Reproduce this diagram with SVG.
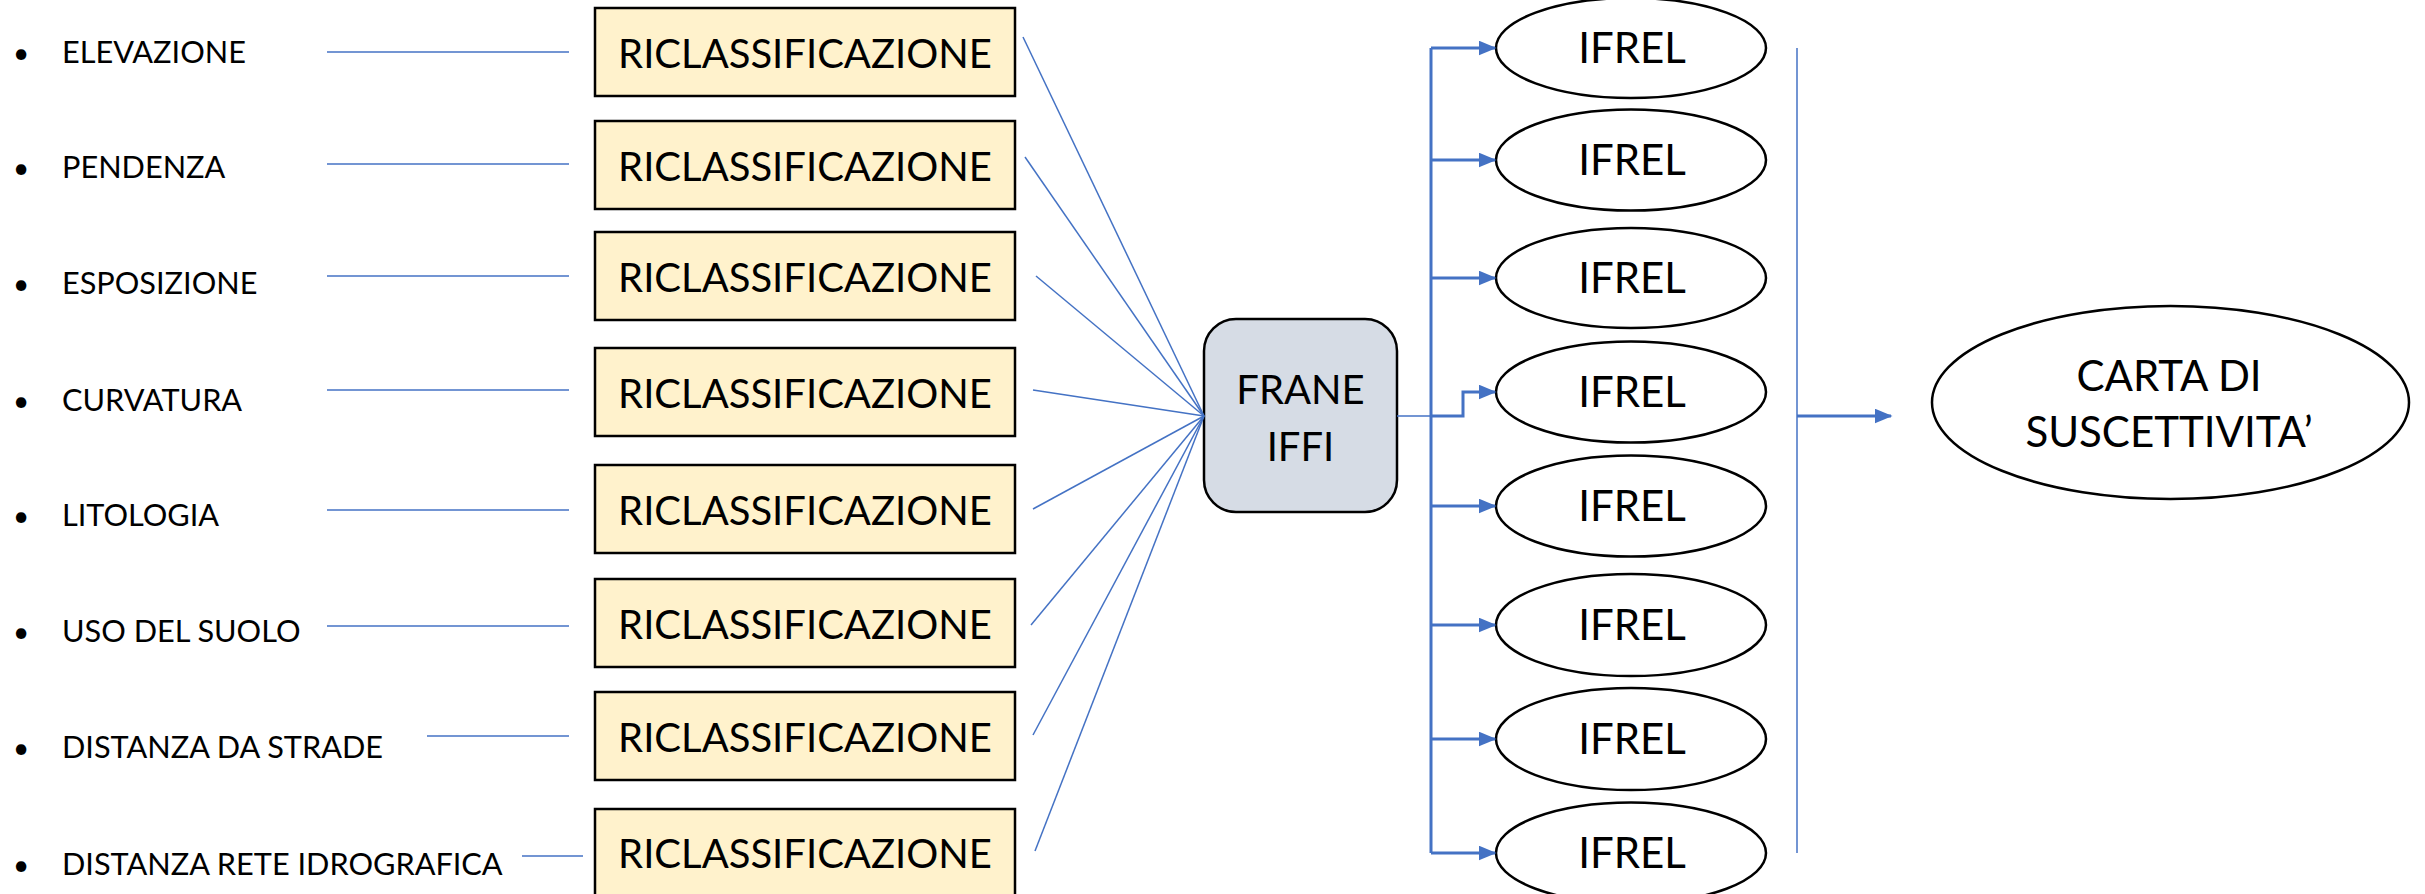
<svg xmlns="http://www.w3.org/2000/svg" width="2425" height="894" viewBox="0 0 2425 894">
<style>
.lbl{font-family:Lato,"Liberation Sans",sans-serif;font-size:30.7px;fill:#000}
.bul{font-family:Lato,"Liberation Sans",sans-serif;font-size:28px;fill:#000}
.box rect{fill:#FFF2CC;stroke:#000;stroke-width:2.5}
.box text{font-family:Lato,"Liberation Sans",sans-serif;font-size:40px;fill:#000;text-anchor:middle}
.ell ellipse{fill:#fff;stroke:#000;stroke-width:2.5}
.ell text{font-family:Lato,"Liberation Sans",sans-serif;font-size:42px;fill:#000;text-anchor:middle}
.thin{stroke:#4472C4;stroke-width:1.5;fill:none}
.thick{stroke:#4472C4;stroke-width:3;fill:none}
</style>
<defs>
<marker id="ah" markerWidth="6" markerHeight="5" refX="5.5" refY="2.5" orient="auto" markerUnits="strokeWidth">
<path d="M0,0 L6,2.5 L0,5 Z" fill="#4472C4"/>
</marker>
</defs>
<g id="labels">
<g id="l1"><text class="bul" x="13" y="63">•</text><text class="lbl" x="62" y="63">ELEVAZIONE</text></g>
<g id="l2"><text class="bul" x="13" y="178">•</text><text class="lbl" x="62" y="178">PENDENZA</text></g>
<g id="l3"><text class="bul" x="13" y="294">•</text><text class="lbl" x="62" y="294">ESPOSIZIONE</text></g>
<g id="l4"><text class="bul" x="13" y="411">•</text><text class="lbl" x="62" y="411">CURVATURA</text></g>
<g id="l5"><text class="bul" x="13" y="526">•</text><text class="lbl" x="62" y="526">LITOLOGIA</text></g>
<g id="l6"><text class="bul" x="13" y="642">•</text><text class="lbl" x="62" y="642">USO DEL SUOLO</text></g>
<g id="l7"><text class="bul" x="13" y="758">•</text><text class="lbl" x="62" y="758">DISTANZA DA STRADE</text></g>
<g id="l8"><text class="bul" x="13" y="875">•</text><text class="lbl" x="62" y="875">DISTANZA RETE IDROGRAFICA</text></g>
</g>
<g id="b1" class="box"><rect x="595" y="8" width="420" height="88"/><text x="805" y="68">RICLASSIFICAZIONE</text></g>
<g id="b2" class="box"><rect x="595" y="121" width="420" height="88"/><text x="805" y="181">RICLASSIFICAZIONE</text></g>
<g id="b3" class="box"><rect x="595" y="232" width="420" height="88"/><text x="805" y="292">RICLASSIFICAZIONE</text></g>
<g id="b4" class="box"><rect x="595" y="348" width="420" height="88"/><text x="805" y="408">RICLASSIFICAZIONE</text></g>
<g id="b5" class="box"><rect x="595" y="465" width="420" height="88"/><text x="805" y="525">RICLASSIFICAZIONE</text></g>
<g id="b6" class="box"><rect x="595" y="579" width="420" height="88"/><text x="805" y="639">RICLASSIFICAZIONE</text></g>
<g id="b7" class="box"><rect x="595" y="692" width="420" height="88"/><text x="805" y="752">RICLASSIFICAZIONE</text></g>
<g id="b8" class="box"><rect x="595" y="809" width="420" height="90"/><text x="805" y="868">RICLASSIFICAZIONE</text></g>
<g id="frane">
<rect x="1204" y="319" width="193" height="193" rx="32" fill="#D6DCE5" stroke="#000" stroke-width="2.5"/>
<text x="1300.5" y="404" font-family="Lato,'Liberation Sans',sans-serif" font-size="40" text-anchor="middle">FRANE</text>
<text x="1300.5" y="461" font-family="Lato,'Liberation Sans',sans-serif" font-size="40" text-anchor="middle">IFFI</text>
</g>
<g id="e1" class="ell"><ellipse cx="1631" cy="48" rx="135" ry="50"/><text x="1632" y="63">IFREL</text></g>
<g id="e2" class="ell"><ellipse cx="1631" cy="160" rx="135" ry="50.5"/><text x="1632" y="175">IFREL</text></g>
<g id="e3" class="ell"><ellipse cx="1631" cy="278" rx="135" ry="50"/><text x="1632" y="293">IFREL</text></g>
<g id="e4" class="ell"><ellipse cx="1631" cy="392" rx="135" ry="50.5"/><text x="1632" y="407">IFREL</text></g>
<g id="e5" class="ell"><ellipse cx="1631" cy="506" rx="135" ry="50.5"/><text x="1632" y="521">IFREL</text></g>
<g id="e6" class="ell"><ellipse cx="1631" cy="625" rx="135" ry="51"/><text x="1632" y="640">IFREL</text></g>
<g id="e7" class="ell"><ellipse cx="1631" cy="739" rx="135" ry="51"/><text x="1632" y="754">IFREL</text></g>
<g id="e8" class="ell"><ellipse cx="1631" cy="853" rx="135" ry="50.5"/><text x="1632" y="868">IFREL</text></g>
<g id="carta" class="ell"><ellipse cx="2170.5" cy="402.5" rx="238.5" ry="96.5"/><text x="2169" y="391" font-size="40">CARTA DI</text><text x="2169" y="447" font-size="40">SUSCETTIVITA’</text></g>
<g id="connectors">
<line class="thin" x1="327" y1="52" x2="569" y2="52"/>
<line class="thin" x1="327" y1="164" x2="569" y2="164"/>
<line class="thin" x1="327" y1="276" x2="569" y2="276"/>
<line class="thin" x1="327" y1="390" x2="569" y2="390"/>
<line class="thin" x1="327" y1="510" x2="569" y2="510"/>
<line class="thin" x1="327" y1="626" x2="569" y2="626"/>
<line class="thin" x1="427" y1="736" x2="569" y2="736"/>
<line class="thin" x1="522" y1="856" x2="583" y2="856"/>
<line class="thin" x1="1023" y1="37" x2="1204" y2="416"/>
<line class="thin" x1="1025" y1="157" x2="1204" y2="416"/>
<line class="thin" x1="1036" y1="276" x2="1204" y2="416"/>
<line class="thin" x1="1033" y1="390" x2="1204" y2="416"/>
<line class="thin" x1="1033" y1="509" x2="1204" y2="416"/>
<line class="thin" x1="1031" y1="625" x2="1204" y2="416"/>
<line class="thin" x1="1033" y1="735" x2="1204" y2="416"/>
<line class="thin" x1="1035" y1="851" x2="1204" y2="416"/>
<line class="thin" x1="1397" y1="416" x2="1431" y2="416"/>
<line class="thick" x1="1431" y1="48" x2="1431" y2="853"/>
<path class="thick" d="M1431,416 H1463 V392 H1495" marker-end="url(#ah)"/>
<line class="thick" x1="1431" y1="48" x2="1495" y2="48" marker-end="url(#ah)"/>
<line class="thick" x1="1431" y1="160" x2="1495" y2="160" marker-end="url(#ah)"/>
<line class="thick" x1="1431" y1="278" x2="1495" y2="278" marker-end="url(#ah)"/>
<line class="thick" x1="1431" y1="506" x2="1495" y2="506" marker-end="url(#ah)"/>
<line class="thick" x1="1431" y1="625" x2="1495" y2="625" marker-end="url(#ah)"/>
<line class="thick" x1="1431" y1="739" x2="1495" y2="739" marker-end="url(#ah)"/>
<line class="thick" x1="1431" y1="853" x2="1495" y2="853" marker-end="url(#ah)"/>
<line class="thin" x1="1797" y1="48" x2="1797" y2="853"/>
<line class="thick" x1="1797" y1="416" x2="1891" y2="416" marker-end="url(#ah)"/>
</g>
</svg>
